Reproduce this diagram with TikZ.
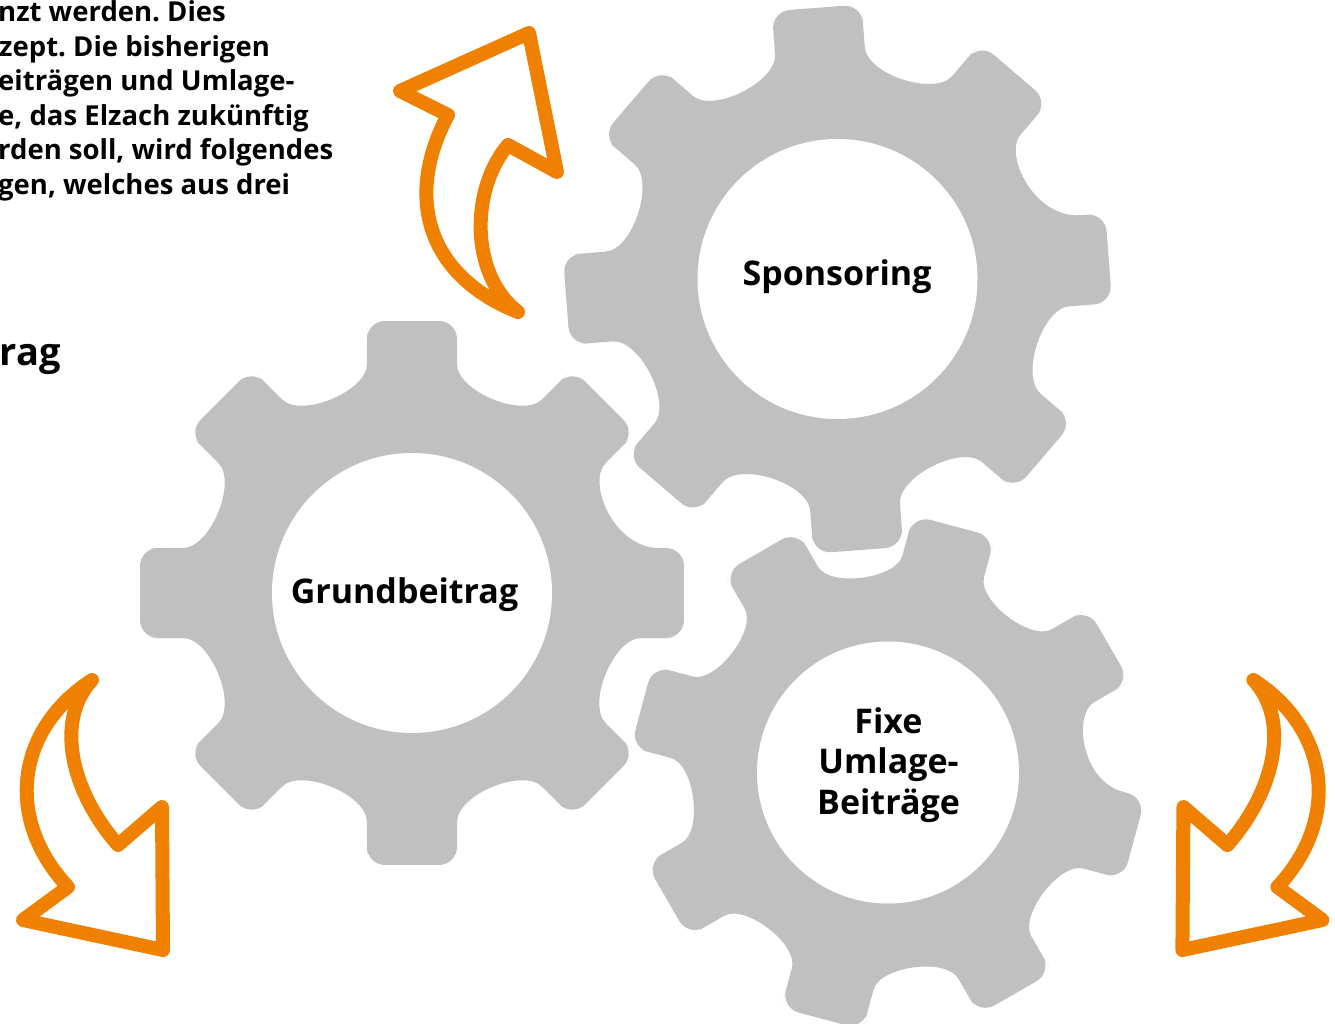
\documentclass[tikz,border=0pt]{standalone}
\usepackage{fontspec}
\setmainfont{Open Sans}
\frenchspacing
\definecolor{gearfill}{RGB}{192,192,192}
\definecolor{arrorange}{RGB}{240,128,0}
\tikzset{
  gearbody/.style={fill=gearfill, rounded corners=18pt},
  hubhole/.style={fill=white},
  gearlabel/.style={font=\bfseries\fontsize{34}{40.5}\selectfont, align=center, text=black, inner sep=0pt, anchor=base},
  arrowline/.style={draw=arrorange, line width=14pt, line join=round, line cap=round},
  paraline/.style={font=\bfseries\fontsize{27.5}{34}\selectfont, anchor=base west, inner sep=0pt, text=black},
  headline/.style={font=\bfseries\fontsize{38}{46}\selectfont, anchor=base east, inner sep=0pt, text=black},
}
% gear outline: 8 teeth, parallel sides (half width 45), tip at 272, valley bottom near 214
\newcommand\gearshape[4]{%
  \begin{scope}[shift={(#1,#2)}, rotate=#3, scale=#4]
    \fill[gearbody] (-10.33:251.07) \foreach \a in {0,45,...,315}{
      -- ({\a-9.39}:275.7) -- ({\a+9.39}:275.7) -- ({\a+10.33}:251.07)
      .. controls ({\a+12.58}:206.7) and ({\a+32.42}:206.7) .. ({\a+34.67}:251.07)};
  \end{scope}}
\begin{document}
\begin{tikzpicture}[x=1pt,y=-1pt]
  \useasboundingbox (0,0) rectangle (1335,1024);
  \clip (0,0) rectangle (1335,1024);

  % gears
  \gearshape{837.5}{279}{4.4}{1}
  \gearshape{412}{593}{0}{1}
  \gearshape{888}{772.5}{-15}{0.9375}
  \fill[hubhole] (837.5,279) circle (140);
  \fill[hubhole] (412,593) circle (140);
  \fill[hubhole] (888,772.5) circle (131);

  \node[gearlabel] (spons) at (837,285.7) {Sponsoring};
  \node[gearlabel] (grund) at (404.5,603) {Grundbeitrag};
  \node[gearlabel] (fixe) at (888.5,814) {Fixe\\Umlage-\\Beiträge};

  % orange arrows
  \draw[arrowline] (529,33) -- (400,91) -- (448,115)
    .. controls (405,195) and (425,275) .. (518,312)
    .. controls (470,275) and (470,190) .. (508,145)
    -- (557,172) -- cycle;
  \draw[arrowline] (23,920) -- (163,950) -- (162,807) -- (118,845)
    .. controls (70,790) and (55,720) .. (92,680)
    .. controls (15,730) and (5,820) .. (68,887) -- cycle;
  \draw[arrowline] (1322.4,920) -- (1182.4,950) -- (1183.4,807) -- (1227.4,845)
    .. controls (1275.4,790) and (1290.4,720) .. (1253.4,680)
    .. controls (1330.4,730) and (1340.4,820) .. (1277.4,887) -- cycle;

  % paragraph text, cut at the left edge as in the reference
  \node[paraline] (p1) at (-2,22) {nzt werden. Dies};
  \node[paraline] (p2) at (-1,56.5) {zept. Die bisherigen};
  \node[paraline] (p3) at (-2,91) {eiträgen und Umlage-};
  \node[paraline] (p4) at (-2,125.5) {e, das Elzach zukünftig};
  \node[paraline] (p5) at (-2,160) {rden soll, wird folgendes};
  \node[paraline] (p6) at (-2,194.5) {gen, welches aus drei};
  \node[headline] (head) at (61,365) {rag};
\end{tikzpicture}
\end{document}
